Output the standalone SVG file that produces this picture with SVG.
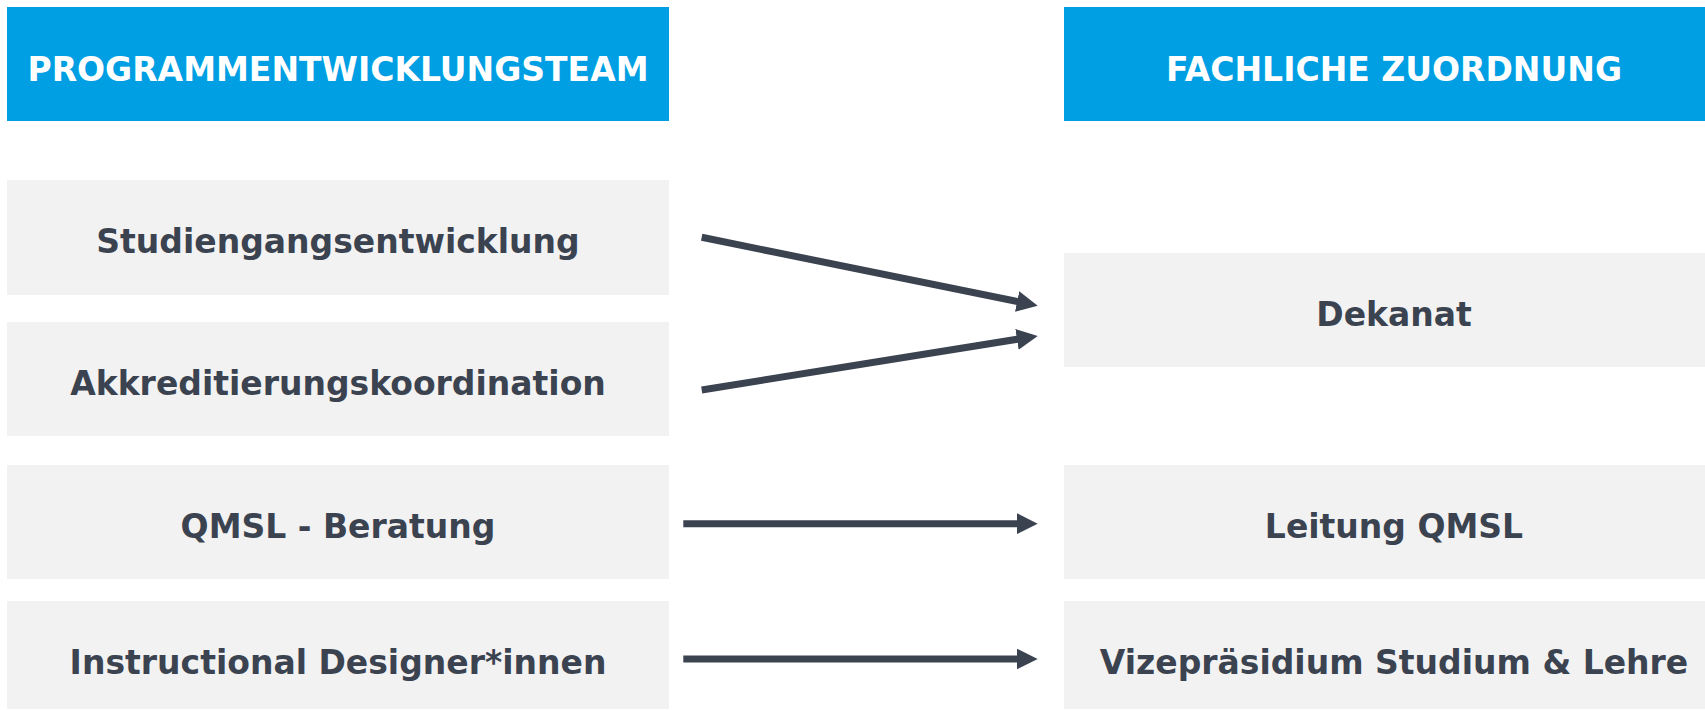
<svg xmlns="http://www.w3.org/2000/svg" width="1705" height="710" viewBox="0 0 1705 710">
<defs>
<style>
.hdr{fill:#009FE3}
.box{fill:#F2F2F2}
.ht{font-family:"DejaVu Sans",Verdana,sans-serif;font-weight:bold;font-size:33px;fill:#FFFFFF;text-anchor:middle}
.nt{font-family:"DejaVu Sans",Verdana,sans-serif;font-weight:bold;font-size:33px;fill:#3B4350;text-anchor:middle}
.conn{stroke:#3B4350;stroke-width:7;fill:none;marker-end:url(#ah)}
</style>
<marker id="ah" markerUnits="userSpaceOnUse" markerWidth="21" markerHeight="21" refX="7" refY="10.5" orient="auto" viewBox="0 0 21 21">
<path d="M0,0 L21,10.5 L0,21 Z" fill="#3B4350"/>
</marker>
</defs>
<rect width="1705" height="710" fill="#FFFFFF"/>
<g id="header-left"><rect class="hdr" x="7" y="7" width="662" height="114"/><text class="ht" x="338" y="81">PROGRAMMENTWICKLUNGSTEAM</text></g>
<g id="header-right"><rect class="hdr" x="1064" y="7" width="662" height="114"/><text class="ht" x="1394" y="81">FACHLICHE ZUORDNUNG</text></g>
<g id="studiengangsentwicklung"><rect class="box" x="7" y="180" width="662" height="115"/><text class="nt" x="338" y="253">Studiengangsentwicklung</text></g>
<g id="akkreditierungskoordination"><rect class="box" x="7" y="322" width="662" height="114"/><text class="nt" x="338" y="395">Akkreditierungskoordination</text></g>
<g id="qmsl-beratung"><rect class="box" x="7" y="465" width="662" height="114"/><text class="nt" x="338" y="538">QMSL - Beratung</text></g>
<g id="instructional-designer"><rect class="box" x="7" y="601" width="662" height="108"/><text class="nt" x="338" y="674">Instructional Designer*innen</text></g>
<g id="dekanat"><rect class="box" x="1064" y="253" width="662" height="114"/><text class="nt" x="1394" y="326">Dekanat</text></g>
<g id="leitung-qmsl"><rect class="box" x="1064" y="465" width="662" height="114"/><text class="nt" x="1394" y="538">Leitung QMSL</text></g>
<g id="vizepraesidium"><rect class="box" x="1064" y="601" width="662" height="108"/><text class="nt" x="1394" y="674">Vizepräsidium Studium &amp; Lehre</text></g>
<g id="connectors">
<line class="conn" x1="701.7" y1="237.3" x2="1024" y2="302.9"/>
<line class="conn" x1="701.7" y1="390" x2="1023.9" y2="338.2"/>
<line class="conn" x1="683.3" y1="523.7" x2="1023.7" y2="523.7"/>
<line class="conn" x1="683.3" y1="659" x2="1023.7" y2="659"/>
</g>
</svg>
